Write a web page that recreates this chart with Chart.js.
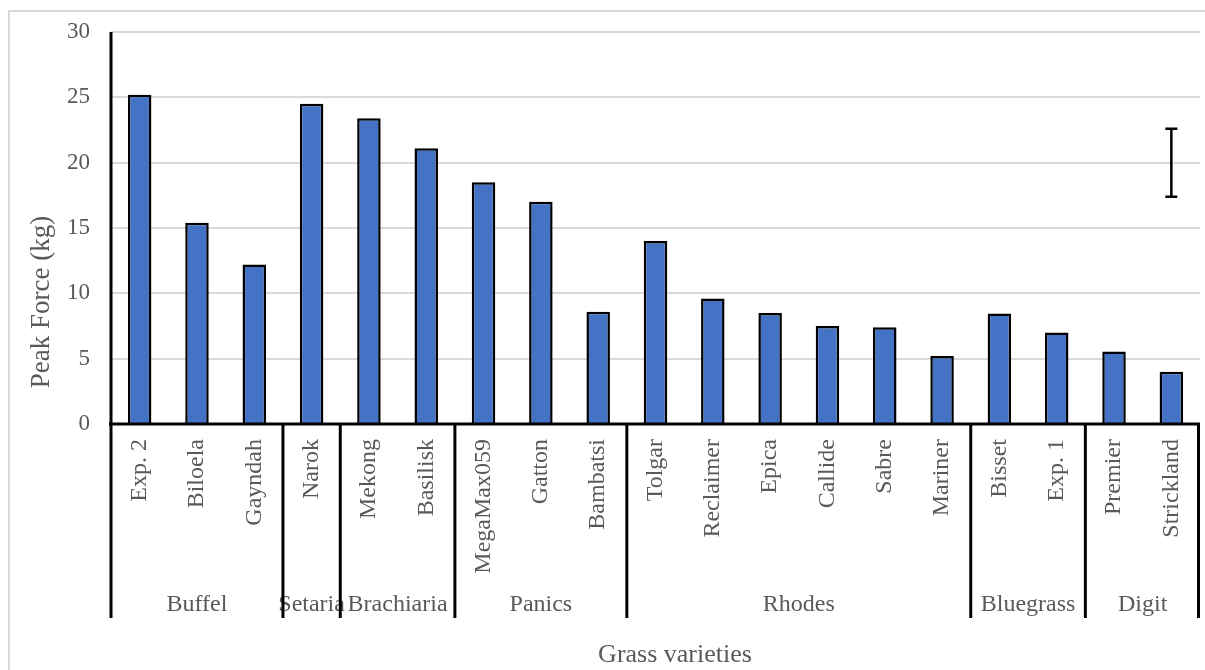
<!DOCTYPE html>
<html>
<head>
<meta charset="utf-8">
<script src="https://cdn.jsdelivr.net/npm/chart.js@4/dist/chart.umd.min.js"></script>
<style>
  html, body { margin: 0; padding: 0; background: #ffffff; }
  #wrap { position: relative; width: 1205px; height: 670px; }
</style>
</head>
<body>
<div id="wrap"><canvas id="c" width="1205" height="670"></canvas></div>
<script>
// Grass varieties and their peak force (kg)
const varieties = ['Exp. 2', 'Biloela', 'Gayndah', 'Narok', 'Mekong', 'Basilisk',
  'MegaMax059', 'Gatton', 'Bambatsi', 'Tolgar', 'Reclaimer', 'Epica', 'Callide',
  'Sabre', 'Mariner', 'Bisset', 'Exp. 1', 'Premier', 'Strickland'];
const peakForce = [25.2, 15.4, 12.2, 24.5, 23.4, 21.1, 18.5, 17.0, 8.6, 14.0,
  9.6, 8.5, 7.5, 7.4, 5.2, 8.45, 7.0, 5.55, 4.0];

// Grass groups (second label row) and how many varieties each spans
const groupNames = ['Buffel', 'Setaria', 'Brachiaria', 'Panics', 'Rhodes', 'Bluegrass', 'Digit'];
const groupSizes = [3, 1, 2, 3, 6, 2, 2];

// Single error bar (upper / lower value), shown above the last variety
const errorBarIndex = 18;
const errorBarLow = [17.4];
const errorBarHigh = [22.6];

const yTicks = [0, 5, 10, 15, 20, 25, 30];

const SERIF = "'Liberation Serif', 'Times New Roman', serif";
const TEXT = '#595959';

const decorations = {
  id: 'decorations',
  beforeDraw(chart) {
    const ctx = chart.ctx;
    ctx.save();
    ctx.strokeStyle = '#d9d9d9';
    ctx.lineWidth = 2;
    ctx.strokeRect(9, 11, 1210, 700);
    ctx.restore();
  },
  afterDatasetsDraw(chart) {
    const ctx = chart.ctx;
    const x = chart.scales.x, y = chart.scales.y;
    const area = chart.chartArea;
    const step = (x.getPixelForValue(1) - x.getPixelForValue(0));
    const lineBottom = area.bottom + 194;

    ctx.save();
    // group labels
    ctx.fillStyle = TEXT;
    ctx.font = '24px ' + SERIF;
    ctx.textAlign = 'center';
    ctx.textBaseline = 'alphabetic';
    let start = 0;
    groupNames.forEach((name, i) => {
      const x0 = x.getPixelForValue(start) - step / 2;
      const x1 = x.getPixelForValue(start + groupSizes[i] - 1) + step / 2;
      ctx.fillText(name, (x0 + x1) / 2, area.bottom + 187);
      start += groupSizes[i];
    });

    // group separators
    ctx.strokeStyle = '#000000';
    ctx.lineWidth = 3;
    start = 0;
    const bounds = [0];
    groupSizes.forEach(s => { start += s; bounds.push(start); });
    bounds.forEach(b => {
      let px = x.getPixelForValue(b) - step / 2;
      if (b === varieties.length) px = Math.min(px, area.right - 1.5);
      ctx.beginPath();
      ctx.moveTo(px, area.bottom);
      ctx.lineTo(px, lineBottom);
      ctx.stroke();
    });

    // axis lines
    ctx.beginPath();
    ctx.moveTo(area.left, area.top);
    ctx.lineTo(area.left, area.bottom);
    ctx.moveTo(area.left - 2, area.bottom);
    ctx.lineTo(area.right, area.bottom);
    ctx.stroke();

    // error bar
    const ex = x.getPixelForValue(errorBarIndex);
    const yl = y.getPixelForValue(errorBarLow[0]);
    const yh = y.getPixelForValue(errorBarHigh[0]);
    ctx.lineWidth = 2.5;
    ctx.beginPath();
    ctx.moveTo(ex, yl); ctx.lineTo(ex, yh);
    ctx.moveTo(ex - 6, yl); ctx.lineTo(ex + 6, yl);
    ctx.moveTo(ex - 6, yh); ctx.lineTo(ex + 6, yh);
    ctx.stroke();

    // axis titles
    ctx.fillStyle = TEXT;
    ctx.font = '26px ' + SERIF;
    ctx.textAlign = 'center';
    ctx.fillText('Grass varieties', 675, 662);

    ctx.save();
    ctx.translate(49, 302);
    ctx.rotate(-Math.PI / 2);
    ctx.font = '27px ' + SERIF;
    ctx.fillText('Peak Force (kg)', 0, 0);
    ctx.restore();

    ctx.restore();
  }
};

new Chart(document.getElementById('c'), {
  type: 'bar',
  data: {
    labels: varieties,
    datasets: [{
      label: 'Peak Force (kg)',
      data: peakForce,
      backgroundColor: '#4472C4',
      borderColor: '#000000',
      borderWidth: 2.5,
      borderSkipped: 'start',
      barPercentage: 0.41,
      categoryPercentage: 1.0
    }]
  },
  options: {
    responsive: false,
    animation: false,
    layout: { padding: { top: 32, right: 5, left: 0, bottom: 0 } },
    plugins: {
      legend: { display: false },
      tooltip: { enabled: false }
    },
    scales: {
      x: {
        grid: { display: false, drawTicks: false },
        border: { display: false },
        afterFit(scale) {
          scale.height = 246;
          scale.paddingLeft = 0;
          scale.paddingRight = 0;
        },
        ticks: {
          autoSkip: false,
          minRotation: 90,
          maxRotation: 90,
          padding: 15,
          color: TEXT,
          font: { family: SERIF, size: 24 }
        }
      },
      y: {
        min: 0,
        max: 30,
        afterFit(scale) {
          scale.width = 111;
          scale.paddingTop = 0;
          scale.paddingBottom = 0;
        },
        afterBuildTicks(scale) { scale.ticks = yTicks.map(v => ({ value: v })); },
        grid: { color: '#d9d9d9', lineWidth: 2, drawTicks: false },
        border: { display: false },
        ticks: {
          padding: 21,
          color: TEXT,
          font: { family: SERIF, size: 23 }
        }
      }
    }
  },
  plugins: [decorations]
});
</script>
</body>
</html>
